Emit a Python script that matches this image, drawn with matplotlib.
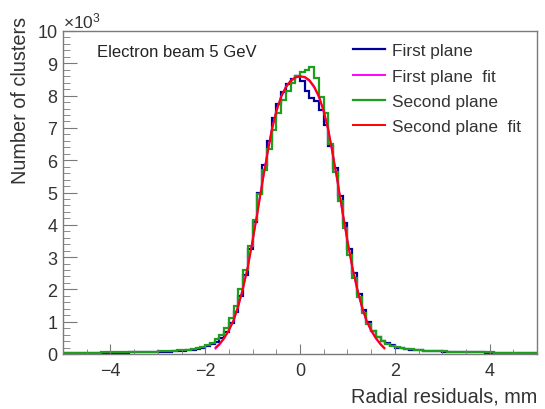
import numpy as np
import matplotlib
matplotlib.use("Agg")
import matplotlib.pyplot as plt
from matplotlib.ticker import MultipleLocator

plt.rcParams['font.family'] = ['Liberation Sans', 'DejaVu Sans']
plt.rcParams['mathtext.fontset'] = 'custom'
plt.rcParams['mathtext.rm'] = 'Liberation Sans'
plt.rcParams['mathtext.it'] = 'Liberation Sans'

# histogram: 100 bins of 0.1 mm from -5 to 5, counts in units of 10^3
bin_lo, bin_hi, n_bins = -5.0, 5.0, 100

tail_left_green = [0.040, 0.040, 0.040, 0.042, 0.042, 0.044, 0.045, 0.046, 0.048, 0.050,
                   0.050, 0.052, 0.054, 0.056, 0.058, 0.060, 0.064, 0.068, 0.070, 0.074,
                   0.080, 0.085, 0.090, 0.100, 0.110, 0.120, 0.135, 0.155, 0.180, 0.220]
core_green = [0.27, 0.35, 0.46, 0.60, 0.82, 1.10, 1.50, 2.00, 2.60, 3.35,
              4.15, 4.95, 5.70, 6.35, 6.95, 7.45, 7.85, 8.15, 8.40, 8.60,
              8.72, 8.80, 8.87, 8.55, 7.95, 7.45, 6.50, 5.65, 4.75, 3.90,
              3.05, 2.35, 1.75, 1.28, 0.93, 0.70, 0.52, 0.40, 0.32, 0.26]
tail_right_green = [0.210, 0.180, 0.160, 0.140, 0.125, 0.115, 0.105, 0.095, 0.090, 0.085,
                    0.080, 0.075, 0.070, 0.068, 0.065, 0.060, 0.058, 0.055, 0.052, 0.050,
                    0.048, 0.046, 0.044, 0.042, 0.040, 0.038, 0.036, 0.035, 0.034, 0.033]

tail_left_blue = [0.030, 0.032, 0.032, 0.034, 0.035, 0.036, 0.036, 0.038, 0.040, 0.040,
                  0.042, 0.044, 0.045, 0.046, 0.048, 0.050, 0.052, 0.055, 0.058, 0.062,
                  0.066, 0.070, 0.076, 0.082, 0.090, 0.100, 0.115, 0.130, 0.150, 0.190]
core_blue = [0.24, 0.30, 0.38, 0.50, 0.68, 0.95, 1.30, 1.80, 2.45, 3.25,
             4.10, 5.00, 5.85, 6.60, 7.30, 7.75, 8.10, 8.35, 8.50, 8.60,
             8.45, 8.15, 7.92, 7.82, 7.55, 7.10, 6.45, 5.75, 4.90, 4.05,
             3.25, 2.50, 1.85, 1.35, 0.98, 0.72, 0.54, 0.41, 0.33, 0.27]
tail_right_blue = [0.200, 0.175, 0.150, 0.135, 0.120, 0.110, 0.100, 0.092, 0.086, 0.080,
                   0.075, 0.070, 0.066, 0.062, 0.060, 0.056, 0.054, 0.050, 0.048, 0.046,
                   0.044, 0.042, 0.040, 0.038, 0.036, 0.035, 0.034, 0.032, 0.031, 0.030]

green = tail_left_green + core_green + tail_right_green
blue = tail_left_blue + core_blue + tail_right_blue

# fit curves (x in mm, y in 10^3)
fit_x = [-1.78, -1.7, -1.6, -1.5, -1.4, -1.3, -1.2, -1.1, -1.0, -0.9, -0.8, -0.7, -0.6,
         -0.5, -0.4, -0.3, -0.2, -0.1, 0.0, 0.1, 0.2, 0.3, 0.4, 0.5, 0.6, 0.7, 0.8,
         0.9, 1.0, 1.1, 1.2, 1.3, 1.4, 1.5, 1.6, 1.7, 1.78]
fit2_y = [0.20, 0.31, 0.50, 0.74, 1.05, 1.50, 2.05, 2.70, 3.50, 4.35, 5.25, 6.10, 6.90,
          7.50, 7.95, 8.25, 8.45, 8.56, 8.60, 8.58, 8.48, 8.28, 7.98, 7.53, 6.93, 6.13, 5.28,
          4.38, 3.52, 2.72, 2.06, 1.50, 1.05, 0.74, 0.50, 0.31, 0.19]
fit1_y = [0.17, 0.29, 0.48, 0.73, 1.04, 1.49, 2.05, 2.71, 3.52, 4.38, 5.28, 6.12, 6.92,
          7.52, 7.97, 8.27, 8.46, 8.56, 8.59, 8.56, 8.45, 8.25, 7.95, 7.50, 6.90, 6.10, 5.25,
          4.35, 3.50, 2.70, 2.04, 1.48, 1.03, 0.72, 0.48, 0.29, 0.17]

edges = np.linspace(bin_lo, bin_hi, n_bins + 1)

fig = plt.figure(figsize=(5.45, 4.1), dpi=100)
ax = fig.add_axes([63 / 545, 55 / 410, 474 / 545, 323 / 410])

c_blue = '#000099'
c_green = '#1e9e1e'
c_mag = '#ff00ff'
c_red = '#ff0000'

ax.stairs(blue, edges, baseline=None, color=c_blue, lw=1.6, label='First plane')
ax.plot(fit_x, fit1_y, color=c_mag, lw=1.4, label='First plane  fit')
ax.stairs(green, edges, baseline=None, color=c_green, lw=1.6, label='Second plane')
ax.plot(fit_x, fit2_y, color=c_red, lw=1.4, label='Second plane  fit')

ax.set_xlim(-5, 5)
ax.set_ylim(0, 10)

frame_c = '#7a7a7a'
for s in ax.spines.values():
    s.set_color(frame_c)
    s.set_linewidth(1.0)

ax.xaxis.set_major_locator(MultipleLocator(2))
ax.xaxis.set_minor_locator(MultipleLocator(0.5))
ax.yaxis.set_major_locator(MultipleLocator(1))
ax.yaxis.set_minor_locator(MultipleLocator(0.2))
ax.tick_params(axis='both', which='both', direction='in', color=frame_c,
               labelcolor='#333333', labelsize=13)
ax.tick_params(axis='x', which='major', length=7, pad=6)
ax.tick_params(axis='x', which='minor', length=3.5)
ax.tick_params(axis='y', which='major', length=10, pad=4)
ax.tick_params(axis='y', which='minor', length=5)
ax.set_xticks([-4, -2, 0, 2, 4])
ax.set_xticklabels(['\u22124', '\u22122', '0', '2', '4'])

fig.text(21 / 545, 1 - 17 / 410, 'Number of clusters', rotation=90, ha='center',
         va='top', fontsize=14.3, color='#333333')
fig.text(537 / 545, 1 - 397 / 410, 'Radial residuals, mm', ha='right', va='center',
         fontsize=14.3, color='#333333')
fig.text(63 / 545, 1 - 21 / 410, r'$\times10^{3}$', ha='left', va='center',
         fontsize=12.5, color='#333333')
ax.text(0.072, 0.938, 'Electron beam 5 GeV', transform=ax.transAxes, ha='left',
        va='center', fontsize=12, color='#222222')

ax.legend(loc='upper left', bbox_to_anchor=(0.58, 1.01), frameon=False,
          fontsize=12.4, handlelength=1.86, handletextpad=0.4, labelspacing=0.6,
          labelcolor='#333333')

fig.savefig('out.png', dpi=100)
